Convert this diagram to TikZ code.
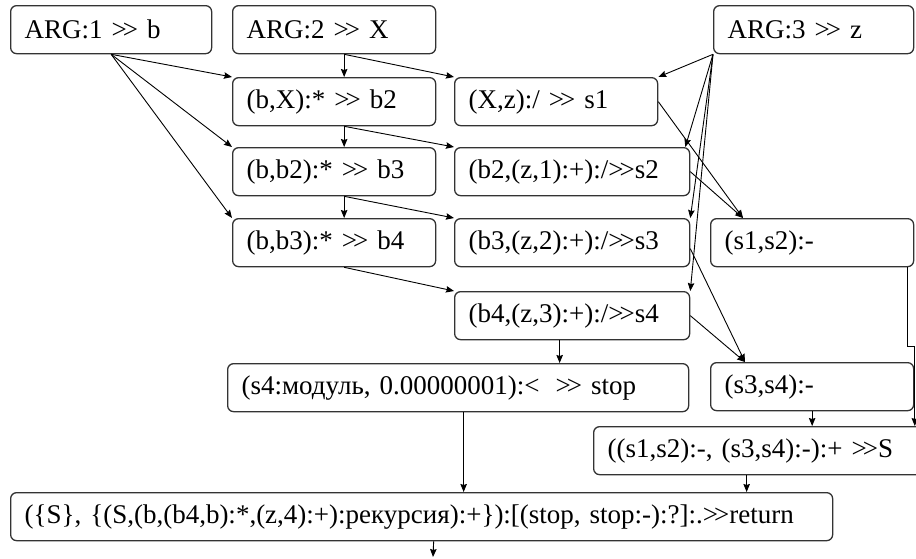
\documentclass[tikz,border=0pt]{standalone}
\usepackage{fontspec}
\setmainfont{Liberation Serif}
\usetikzlibrary{arrows.meta,calc}
\newcommand\GG{>\kern-0.15em>}
\begin{document}
\begin{tikzpicture}[x=1pt,y=-1pt,
  box/.style={draw=black!80, line width=1.3pt, rounded corners=6pt, fill=white,
    anchor=north west, inner xsep=14pt, inner ysep=0pt, minimum height=48pt,
    text width=#1, align=left, font=\fontsize{27}{30}\selectfont},
  arr/.style={line width=0.9pt, -{Stealth[length=8pt,width=6.5pt,inset=1pt]}}]
\clip (0,0) rectangle (916,558);
% row 1
\node[box=173pt] (a1) at (10,5) {ARG:1 \GG{} b};
\node[box=175pt] (a2) at (232,5) {ARG:2 \GG{} X};
\node[box=172pt] (a3) at (713,5) {ARG:3 \GG{} z};
% left column
\node[box=175pt] (bx) at (232,77) {(b,X):* \GG{} b2};
\node[box=175pt] (bb2) at (232,147) {(b,b2):* \GG{} b3};
\node[box=175pt] (bb3) at (232,218) {(b,b3):* \GG{} b4};
% middle column
\node[box=175pt] (xz) at (454,77) {(X,z):/ \GG{} s1};
\node[box=207pt] (s2) at (454,147) {(b2,(z,1):+):/\GG{}s2};
\node[box=207pt] (s3) at (454,218) {(b3,(z,2):+):/\GG{}s3};
\node[box=207pt] (s4) at (454,291) {(b4,(z,3):+):/\GG{}s4};
% right column
\node[box=175pt] (s12) at (710,218) {(s1,s2):-};
\node[box=175pt] (s34) at (710,362) {(s3,s4):-};
% lower rows
\node[box=433pt] (stop) at (227,363) {(s4:модуль, 0.00000001):<\hspace{0.6em}\GG{} stop};
\node[box=304pt] (S) at (593,426) {((s1,s2):-, (s3,s4):-):+ \GG{}S};
\node[box=794pt] (ret) at (10,492) {(\{S\}, \{(S,(b,(b4,b):*,(z,4):+):рекурсия):+\}):[(stop, stop:-):?]:.\GG{}return};
\coordinate (end) at (433,557);
% connectors
\draw[arr] (a1.south) -- (bx.north west);
\draw[arr] (a1.south) -- (bb2.north west);
\draw[arr] (a1.south) -- (bb3.north west);
\draw[arr] ([xshift=10pt]a2.south) -- ([xshift=10pt]bx.north);
\draw[arr] ([xshift=10pt]a2.south) -- (xz.north west);
\draw[arr] ([xshift=10pt]bx.south) -- ([xshift=10pt]bb2.north);
\draw[arr] ([xshift=10pt]bx.south) -- (s2.north west);
\draw[arr] ([xshift=10pt]bb2.south) -- ([xshift=10pt]bb3.north);
\draw[arr] ([xshift=10pt]bb2.south) -- (s3.north west);
\draw[arr] ([xshift=10pt]bb3.south) -- (s4.north west);
\draw[arr] (a3.south west) -- (xz.north east);
\draw[arr] (a3.south west) -- ([xshift=-5pt]s2.north east);
\draw[arr] (a3.south west) -- (s3.north east);
\draw[arr] (a3.south west) -- (s4.north east);
\draw[arr] (xz.east) -- ([xshift=33pt]s12.north west);
\draw[arr] (s2.east) -- ([xshift=33pt]s12.north west);
\draw[arr] ([yshift=-6pt]s3.east) -- ([xshift=35pt]s34.north west);
\draw[arr] (s4.east) -- ([xshift=35pt]s34.north west);
\draw[arr] ([xshift=-12.5pt]s4.south) -- ([xshift=-12.5pt]s4.south |- stop.north);
\draw[arr] ([xshift=5.5pt]stop.south) -- ([xshift=5.5pt]stop.south |- ret.north);
\draw[arr] (s34.south) -- (s34.south |- S.north);
\draw[arr] ([xshift=-7pt]s12.south east) -- ++(0,79) -- ++(7.5,0) -- ([xshift=-11.5pt]S.north east);
\draw[arr] ([xshift=-13pt]S.south) -- ([xshift=-13pt]S.south |- ret.north);
\draw[arr] ([xshift=12pt]ret.south) -- (end);
\end{tikzpicture}
\end{document}
